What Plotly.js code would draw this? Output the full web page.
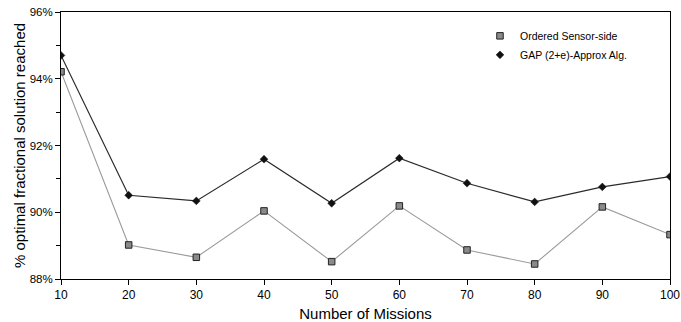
<!DOCTYPE html>
<html>
<head>
<meta charset="utf-8">
<script src="https://cdn.plot.ly/plotly-3.0.1.min.js"></script>
<style>html,body{margin:0;padding:0;background:#fff;}#chart{width:681px;height:322px;}</style>
</head>
<body>
<div id="chart"></div>
<script>
const missions = [10, 20, 30, 40, 50, 60, 70, 80, 90, 100];
const orderedSensorSide = [94.21, 89.02, 88.65, 90.04, 88.52, 90.19, 88.87, 88.45, 90.16, 89.33];
const gapApprox = [94.70, 90.51, 90.34, 91.59, 90.27, 91.62, 90.87, 90.31, 90.76, 91.07];
const seriesNames = ['Ordered Sensor-side', 'GAP (2+e)-Approx Alg.'];
const yTickVals = [88, 90, 92, 94, 96];
const yTickText = ['88%', '90%', '92%', '94%', '96%'];
const xTickVals = [10, 20, 30, 40, 50, 60, 70, 80, 90, 100];

const sqMarker = {symbol: 'square', size: 6.5, color: '#8a8a8a', line: {color: '#222', width: 1}};
const dmMarker = {symbol: 'diamond', size: 6, color: '#111', line: {color: '#111', width: 0.5}};

const traces = [
  {x: missions, y: orderedSensorSide, mode: 'lines+markers', name: seriesNames[0], showlegend: false,
   line: {color: '#9a9a9a', width: 1.1}, marker: sqMarker},
  {x: missions, y: gapApprox, mode: 'lines+markers', name: seriesNames[1], showlegend: false,
   line: {color: '#2a2a2a', width: 1.2}, marker: dmMarker},
  {x: [null], y: [null], mode: 'markers', name: seriesNames[0], marker: sqMarker},
  {x: [null], y: [null], mode: 'markers', name: seriesNames[1], marker: dmMarker}
];

const layout = {
  width: 681, height: 322,
  margin: {l: 61, r: 11, t: 12, b: 43},
  paper_bgcolor: '#fff', plot_bgcolor: '#fff',
  font: {family: 'Liberation Sans, Arial, sans-serif', color: '#000', size: 12},
  showlegend: true,
  legend: {x: 0.688, y: 0.965, xanchor: 'left', yanchor: 'top', bgcolor: 'rgba(0,0,0,0)',
           font: {size: 10.5, color: '#000'}, itemwidth: 30, tracegroupgap: 0},
  xaxis: {
    range: [10, 100], tickvals: xTickVals, ticks: 'outside', ticklen: 5, tickcolor: '#000',
    showline: true, linecolor: '#000', linewidth: 1, mirror: true, showgrid: false, zeroline: false,
    tickfont: {size: 12},
    title: {text: 'Number of Missions', font: {size: 15}, standoff: 7}
  },
  yaxis: {
    range: [88, 96], tickvals: yTickVals, ticktext: yTickText, ticks: 'outside', ticklen: 5, tickcolor: '#000',
    minor: {tickvals: [89, 91, 93, 95], ticks: 'outside', ticklen: 4, tickcolor: '#000', showgrid: false},
    showline: true, linecolor: '#000', linewidth: 1, mirror: true, showgrid: false, zeroline: false,
    tickfont: {size: 11.5},
    title: {text: '% optimal fractional solution reached', font: {size: 15}, standoff: 0}
  }
};

Plotly.newPlot('chart', traces, layout, {displayModeBar: false, staticPlot: true});
</script>
</body>
</html>
